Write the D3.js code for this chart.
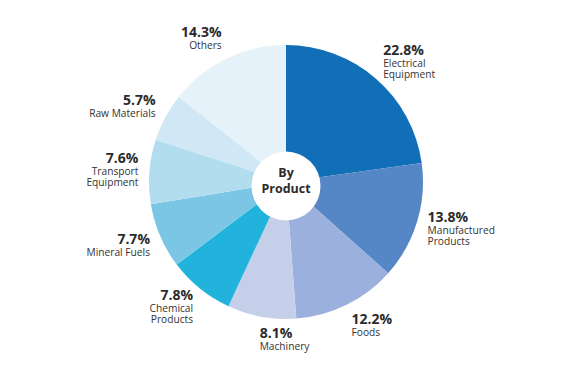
<!DOCTYPE html>
<html>
<head>
<meta charset="utf-8">
<script src="https://cdn.jsdelivr.net/npm/d3@7"></script>
<style>
  html, body { margin: 0; padding: 0; background: #fff; }
  svg { display: block; font-family: "Open Sans", "Noto Sans", sans-serif; }
</style>
</head>
<body>
<div id="viz"></div>
<script>
// Data
const categories = ["Electrical Equipment", "Manufactured Products", "Foods", "Machinery",
  "Chemical Products", "Mineral Fuels", "Transport Equipment", "Raw Materials", "Others"];
const labelLines = [["Electrical", "Equipment"], ["Manufactured", "Products"], ["Foods"], ["Machinery"],
  ["Chemical", "Products"], ["Mineral Fuels"], ["Transport", "Equipment"], ["Raw Materials"], ["Others"]];
const shares = [22.8, 13.8, 12.2, 8.1, 7.8, 7.7, 7.6, 5.7, 14.3];
const colors = ["#116fb8", "#5587c6", "#9bb0dd", "#c5cfea", "#22b3dc", "#7cc6e5", "#b2ddef", "#d0e8f5", "#e6f2f9"];
const centerTitle = ["By", "Product"];

const width = 580;
const height = 380;
const cx = 286, cy = 182;
const radius = 137;

const svg = d3.select("#viz")
    .append("svg")
    .attr("width", width)
    .attr("height", height);

const g = svg.append("g")
    .attr("transform", `translate(${cx},${cy})`);

const color = d3.scaleOrdinal().domain(categories).range(colors);

const pie = d3.pie()
    .sort(null)
    .value((d, i) => shares[i]);

const arcs = pie(categories);

const arc = d3.arc().innerRadius(0).outerRadius(radius);

g.selectAll("path.slice")
    .data(arcs)
    .enter()
    .append("path")
    .attr("class", "slice")
    .attr("d", arc)
    .attr("fill", d => color(d.data));

// white hole in the middle
g.append("circle")
    .attr("cx", 0)
    .attr("cy", 4)
    .attr("r", 34.5)
    .attr("fill", "#fff");

g.append("text")
    .attr("text-anchor", "middle")
    .style("font-size", "12.5px")
    .style("font-weight", "bold")
    .style("fill", "#2b2b2b")
    .selectAll("tspan")
    .data(centerTitle)
    .enter()
    .append("tspan")
    .attr("x", 0)
    .attr("y", (d, i) => -5 + i * 16)
    .text(d => d);

// labels around the pie, placed on an ellipse at each slice's mid angle
const labelRx = radius + 11;
const labelRy = radius + 23;
const pctH = 9.5;      // cap height of the percentage
const firstGap = 12;   // percentage baseline -> first name baseline
const lineGap = 11;    // between name lines

g.selectAll("g.label")
    .data(arcs)
    .enter()
    .append("g")
    .attr("class", "label")
    .each(function(d, i) {
        const mid = (d.startAngle + d.endAngle) / 2;
        const x = labelRx * Math.sin(mid);
        const y = -labelRy * Math.cos(mid);
        const anchor = Math.sin(mid) >= -0.2 ? "start" : "end";
        const lines = labelLines[i];
        const blockH = pctH + firstGap + (lines.length - 1) * lineGap;
        const top = y - blockH / 2;
        const sel = d3.select(this);

        sel.append("text")
            .attr("x", x)
            .attr("y", top + pctH)
            .attr("text-anchor", anchor)
            .style("font-size", "14px")
            .style("font-weight", "bold")
            .style("fill", "#2b2b2b")
            .text(shares[i].toFixed(1) + "%");

        sel.append("text")
            .attr("text-anchor", anchor)
            .style("font-size", "10.2px")
            .style("fill", "#333")
            .selectAll("tspan")
            .data(lines)
            .enter()
            .append("tspan")
            .attr("x", x)
            .attr("y", (l, j) => top + pctH + firstGap + j * lineGap)
            .text(l => l);
    });
</script>
</body>
</html>
